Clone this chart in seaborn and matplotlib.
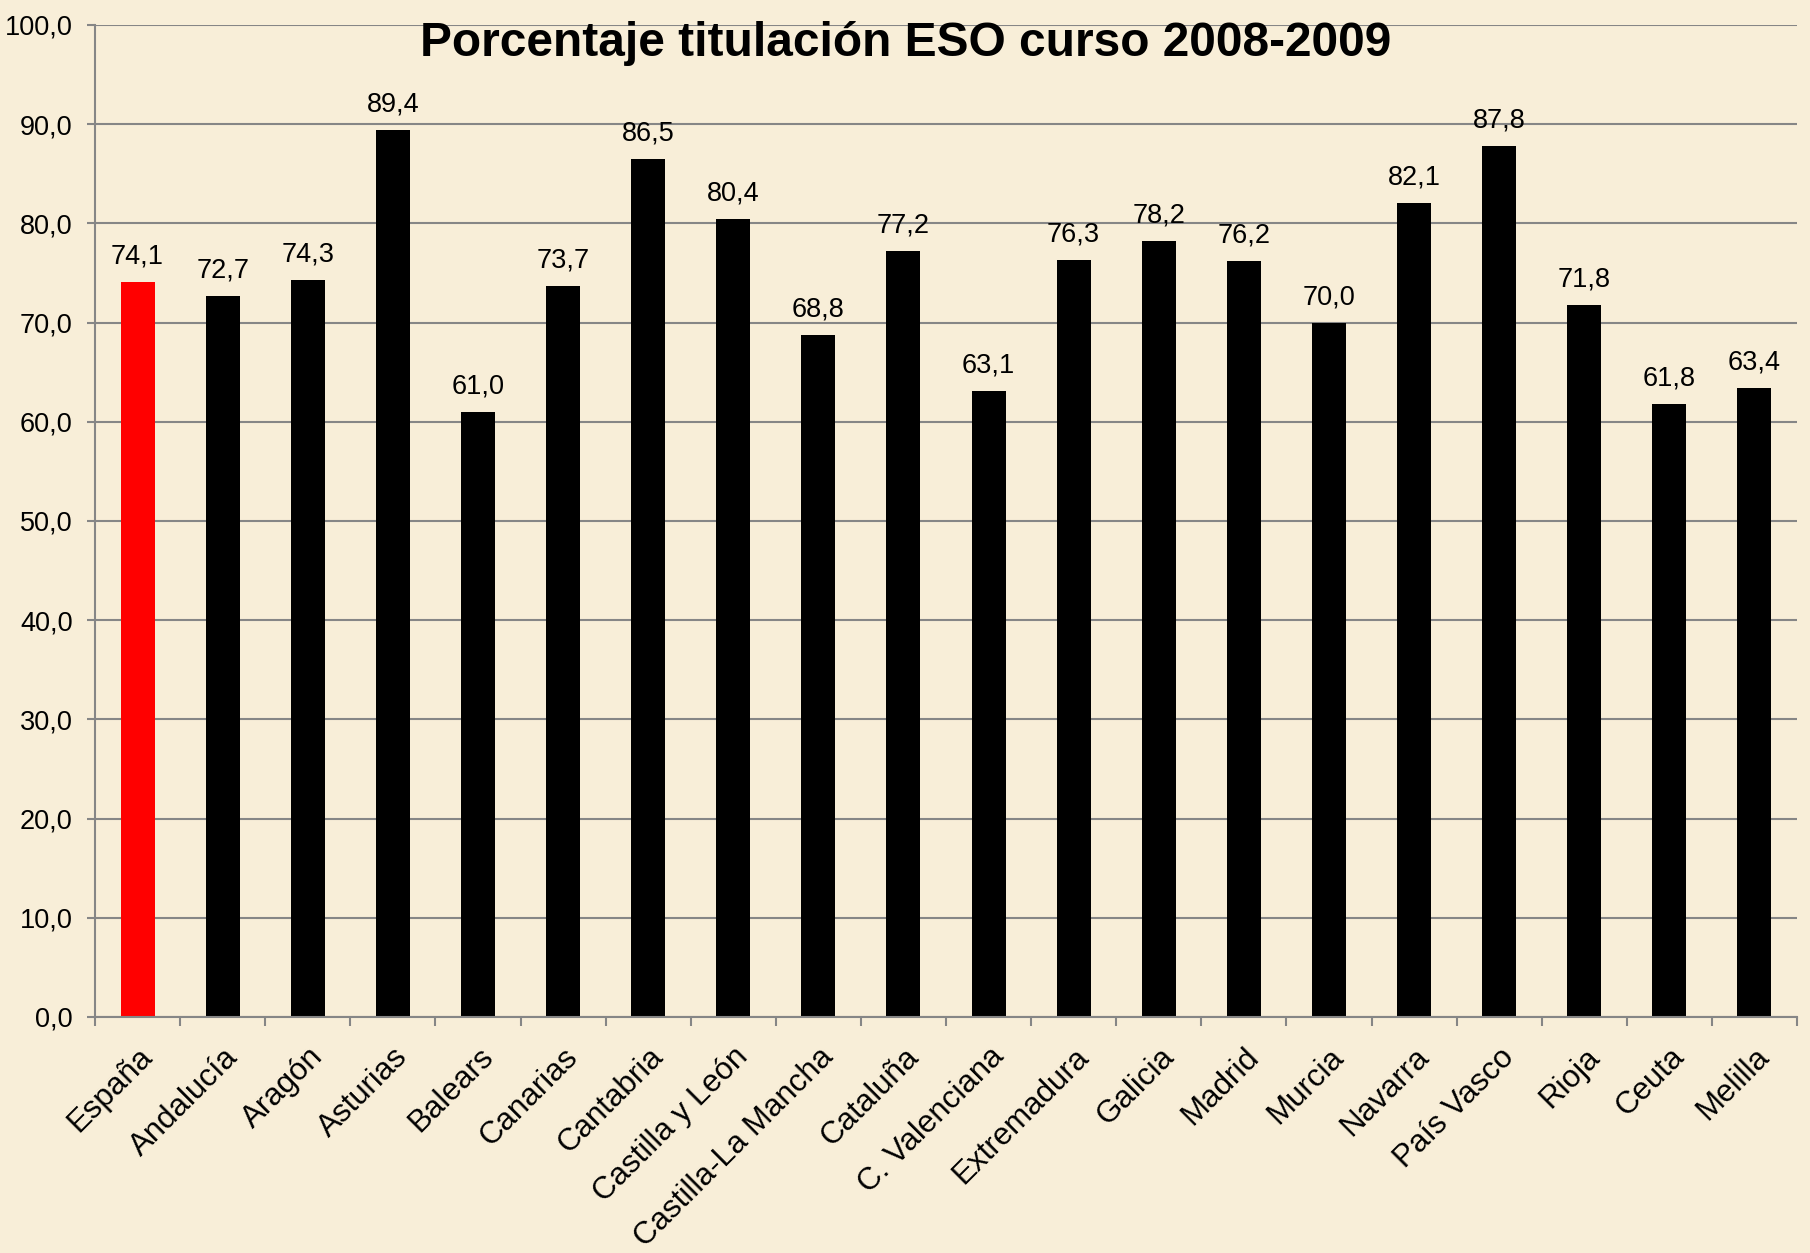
import matplotlib
matplotlib.use("Agg")
import matplotlib.pyplot as plt
import seaborn as sns
import pandas as pd
from matplotlib.ticker import FixedLocator, FuncFormatter
from matplotlib.transforms import ScaledTranslation

categories = ["España", "Andalucía", "Aragón", "Asturias", "Balears", "Canarias",
              "Cantabria", "Castilla y León", "Castilla-La Mancha", "Cataluña",
              "C. Valenciana", "Extremadura", "Galicia", "Madrid", "Murcia",
              "Navarra", "País Vasco", "Rioja", "Ceuta", "Melilla"]
values = [74.1, 72.7, 74.3, 89.4, 61.0, 73.7, 86.5, 80.4, 68.8, 77.2,
          63.1, 76.3, 78.2, 76.2, 70.0, 82.1, 87.8, 71.8, 61.8, 63.4]
bar_colors = ["#FF0000"] + ["#000000"] * (len(categories) - 1)
title = "Porcentaje titulación ESO curso 2008-2009"

sns.set_theme(style="white")
plt.rcParams["font.family"] = ["Liberation Sans", "DejaVu Sans"]
plt.rcParams["text.color"] = "black"
plt.rcParams["xtick.labelcolor"] = "black"
plt.rcParams["ytick.labelcolor"] = "black"

bg = "#F8EED8"
fig = plt.figure(figsize=(18.10, 12.53), dpi=100, facecolor=bg)
ax = fig.add_axes([95 / 1810, 1 - 1017 / 1253, (1797 - 95) / 1810, (1017 - 25) / 1253])
ax.set_facecolor(bg)

df = pd.DataFrame({"cat": categories, "val": values})
sns.barplot(data=df, x="cat", y="val", hue="cat", palette=bar_colors,
            legend=False, width=0.4, saturation=1, ax=ax, edgecolor="none")

ax.set_ylim(0, 100)
ax.set_xlim(-0.5, len(categories) - 0.5)
ax.set_yticks(range(0, 101, 10))
ax.yaxis.set_major_formatter(FuncFormatter(lambda v, p: f"{v:.1f}".replace(".", ",")))
ax.grid(axis="y", color="#868686", linewidth=1.5)
ax.set_axisbelow(True)

grey = "#868686"
for s in ["top", "right"]:
    ax.spines[s].set_visible(False)
for s in ["left", "bottom"]:
    ax.spines[s].set_color(grey)
    ax.spines[s].set_linewidth(1.5)

# x ticks at category boundaries, labels at centers
ax.xaxis.set_major_locator(FixedLocator([i - 0.5 for i in range(len(categories) + 1)]))
ax.xaxis.set_major_formatter(FuncFormatter(lambda v, p: ""))
ax.set_xticks(range(len(categories)), minor=True)
ax.set_xticklabels(categories, minor=True, rotation=45, ha="right",
                   rotation_mode="anchor", fontsize=22.5, color="black")
shift = ScaledTranslation(-6 / 100, 0, fig.dpi_scale_trans)
for lab in ax.get_xticklabels(minor=True):
    lab.set_transform(lab.get_transform() + shift)
ax.tick_params(axis="x", which="major", direction="out", length=6.5, width=1.5,
               color=grey, bottom=True)
ax.tick_params(axis="x", which="minor", length=0, pad=18)
ax.tick_params(axis="y", direction="out", length=6, width=1.5, color=grey,
               left=True, labelsize=19.5, pad=10, labelcolor="black")
ax.set_xlabel("")
ax.set_ylabel("")

for i, v in enumerate(values):
    ax.annotate(f"{v:.1f}".replace(".", ","), (i, v), xytext=(0, 9),
                textcoords="offset points", ha="center", va="bottom",
                fontsize=19.5, color="black")

fig.text(906 / 1810, 1 - 43 / 1253, title, ha="center", va="center",
         fontsize=34.5, fontweight="bold", color="black")

fig.savefig("out.png", dpi=100, facecolor=bg)
